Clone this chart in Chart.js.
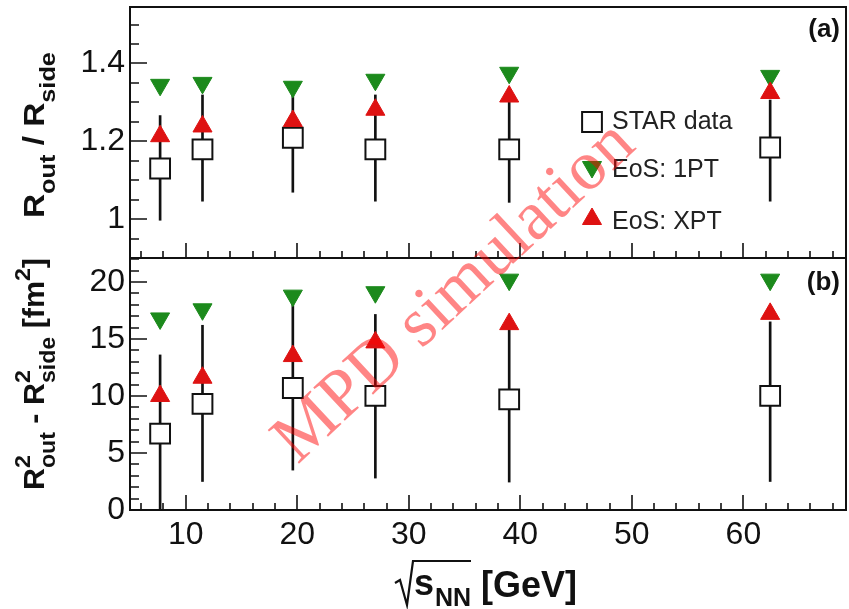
<!DOCTYPE html>
<html>
<head>
<meta charset="utf-8">
<script src="https://cdn.jsdelivr.net/npm/chart.js@4.4.0/dist/chart.umd.min.js"></script>
<style>
  html, body { margin: 0; padding: 0; background: #fff; }
  #wrap { position: relative; width: 849px; height: 609px; }
  canvas { position: absolute; left: 0; top: 0; }
</style>
</head>
<body>
<div id="wrap">
  <canvas id="top" width="849" height="609"></canvas>
  <canvas id="bottom" width="849" height="609"></canvas>
</div>
<script>
var energies = [7.7, 11.5, 19.6, 27, 39, 62.4];

// panel (a): Rout / Rside
var ratioStar = [1.13, 1.179, 1.209, 1.179, 1.179, 1.184];
var ratioStarLo = [0.997, 1.046, 1.069, 1.046, 1.043, 1.046];
var ratioStarHi = [1.266, 1.319, 1.33, 1.319, 1.306, 1.306];
var ratio1PT = [1.345, 1.35, 1.34, 1.358, 1.376, 1.368];
var ratioXPT = [1.213, 1.238, 1.252, 1.281, 1.315, 1.324];

// panel (b): Rout^2 - Rside^2 [fm^2]
var diffStar = [6.7, 9.3, 10.7, 10.0, 9.7, 10.0];
var diffStarLo = [0, 2.5, 3.5, 2.8, 2.45, 2.5];
var diffStarHi = [13.6, 16.2, 18.5, 17.15, 15.9, 16.5];
var diff1PT = [16.8, 17.6, 18.8, 19.1, 20.2, 20.2];
var diffXPT = [10.0, 11.6, 13.5, 14.7, 16.3, 17.2];

var xTicks = [10, 20, 30, 40, 50, 60];
var xTickLabels = ["10", "20", "30", "40", "50", "60"];
var yTopTicks = [1, 1.2, 1.4];
var yTopLabels = ["1", "1.2", "1.4"];
var yBotTicks = [0, 5, 10, 15, 20];
var yBotLabels = ["0", "5", "10", "15", "20"];
var legendLabels = ["STAR data", "EoS: 1PT", "EoS: XPT"];

var font = "'Liberation Sans', Arial, Helvetica, sans-serif";
var green = "rgb(28,138,28)";
var red = "rgb(222,18,18)";
var ink = "#111";

function pts(ys) {
  return energies.map(function (x, i) { return { x: x, y: ys[i] }; });
}
function ranges(lo, hi) {
  return energies.map(function (x, i) { return { x: x, y: [lo[i], hi[i]] }; });
}

function makeDatasets(star, lo, hi, pt1, xpt) {
  return [
    { type: "scatter", label: legendLabels[2], data: pts(xpt), order: 0,
      pointStyle: "triangle", pointRadius: 11, pointBackgroundColor: red,
      pointBorderColor: red, pointBorderWidth: 1 },
    { type: "scatter", label: legendLabels[1], data: pts(pt1), order: 1,
      pointStyle: "triangle", pointRotation: 180, pointRadius: 11,
      pointBackgroundColor: green, pointBorderColor: green, pointBorderWidth: 1 },
    { type: "scatter", label: legendLabels[0], data: pts(star), order: 2,
      pointStyle: "rect", pointRadius: 14, pointBackgroundColor: "#fff",
      pointBorderColor: ink, pointBorderWidth: 2 },
    { type: "bar", label: "STAR errors", data: ranges(lo, hi), order: 3,
      backgroundColor: ink, borderWidth: 0, barThickness: 2 }
  ];
}

// ROOT style frame with inward ticks
function framePlugin(yMajor, yMinStep, yMin, yMax) {
  return {
    id: "frame",
    beforeDatasetsDraw: function (chart) {
      var ctx = chart.ctx, a = chart.chartArea;
      var xs = chart.scales.x, ys = chart.scales.y;
      ctx.save();
      ctx.strokeStyle = ink;
      ctx.lineWidth = 2;
      ctx.strokeRect(a.left, a.top, a.right - a.left, a.bottom - a.top);
      ctx.lineWidth = 1.6;
      ctx.beginPath();
      var i, v, p;
      for (i = 0; ; i++) {
        v = yMin + i * yMinStep;
        if (v > yMax + 1e-9) break;
        var major = yMajor.some(function (m) { return Math.abs(m - v) < 1e-6; });
        p = Math.round(ys.getPixelForValue(v));
        ctx.moveTo(a.left, p);
        ctx.lineTo(a.left + (major ? 17 : 9), p);
      }
      for (i = 0; ; i++) {
        v = 6 + i * 2;
        if (v > 69) break;
        var xm = xTicks.indexOf(v) >= 0;
        p = Math.round(xs.getPixelForValue(v));
        ctx.moveTo(p, a.bottom);
        ctx.lineTo(p, a.bottom - (xm ? 15 : 7));
      }
      ctx.stroke();
      ctx.restore();
    }
  };
}

// text with sub/superscripts
function drawRich(ctx, x, y, angle, sx, parts) {
  ctx.save();
  ctx.translate(x, y);
  ctx.rotate(angle);
  ctx.scale(sx, 1);
  ctx.fillStyle = ink;
  ctx.textBaseline = "alphabetic";
  var cx = 0;
  parts.forEach(function (p) {
    var items = p.stack ? p.stack : [p];
    var w = 0;
    items.forEach(function (q) {
      ctx.font = "bold " + q.s + "px " + font;
      ctx.fillText(q.t, cx, q.dy || 0);
      w = Math.max(w, ctx.measureText(q.t).width);
    });
    cx += w;
  });
  ctx.restore();
}

function baseOptions(yMin, yMax, yTicks, yLabels, showX, padTop, padBottom) {
  return {
    responsive: false,
    animation: false,
    events: [],
    layout: { autoPadding: false, padding: { left: 0, right: 3, top: padTop, bottom: padBottom } },
    plugins: { legend: { display: false }, tooltip: { enabled: false } },
    scales: {
      x: {
        type: "linear", min: 5, max: 69.2, offset: false, display: showX,
        grid: { display: false, drawTicks: false }, border: { display: false },
        ticks: {
          padding: 6, color: ink, maxRotation: 0, autoSkip: false,
          font: { family: font, size: 32 },
          callback: function (v, i) { return xTickLabels[i]; }
        },
        afterBuildTicks: function (s) { s.ticks = xTicks.map(function (v) { return { value: v }; }); },
        afterFit: function (s) {
          s.height = showX ? 99 : 0;
          s.paddingLeft = 0; s.paddingRight = 0;
        }
      },
      y: {
        type: "linear", min: yMin, max: yMax,
        grid: { display: false, drawTicks: false }, border: { display: false },
        ticks: {
          padding: 5, color: ink,
          font: { family: font, size: 32 },
          callback: function (v, i) { return yLabels[i]; }
        },
        afterBuildTicks: function (s) { s.ticks = yTicks.map(function (v) { return { value: v }; }); },
        afterFit: function (s) {
          s.width = 130;
          s.paddingTop = 0; s.paddingBottom = 0;
        }
      }
    }
  };
}

var topDecor = {
  id: "topDecor",
  afterDraw: function (chart) {
    var ctx = chart.ctx;
    // y title
    drawRich(ctx, 44, 218, -Math.PI / 2, 1.15, [
      { t: "R", s: 29 }, { t: "out", s: 22, dy: 11 }, { t: " / ", s: 29 },
      { t: "R", s: 29 }, { t: "side", s: 22, dy: 11 }
    ]);
    // panel label
    ctx.save();
    ctx.fillStyle = ink;
    ctx.font = "bold 26px " + font;
    ctx.textAlign = "right";
    ctx.fillText("(a)", 840, 37);
    // legend
    var marks = [
      { pointStyle: "rect", rotation: 0, radius: 14, borderWidth: 2, fill: "#fff", stroke: ink, y: 122 },
      { pointStyle: "triangle", rotation: 180, radius: 11, borderWidth: 1, fill: green, stroke: green, y: 167 },
      { pointStyle: "triangle", rotation: 0, radius: 11, borderWidth: 1, fill: red, stroke: red, y: 219 }
    ];
    ctx.textAlign = "left";
    ctx.textBaseline = "middle";
    ctx.font = "25px " + font;
    marks.forEach(function (m, i) {
      ctx.fillStyle = m.fill;
      ctx.strokeStyle = m.stroke;
      ctx.lineWidth = m.borderWidth;
      Chart.helpers.drawPoint(ctx, m, 592, m.y);
      ctx.fillStyle = "#222";
      ctx.fillText(legendLabels[i], 612, m.y + (i === 0 ? 0 : 3));
    });
    ctx.restore();
  }
};

var bottomDecor = {
  id: "bottomDecor",
  afterDraw: function (chart) {
    var ctx = chart.ctx;
    drawRich(ctx, 44, 490, -Math.PI / 2, 1.05, [
      { t: "R", s: 29 },
      { stack: [{ t: "2", s: 22, dy: -14 }, { t: "out", s: 22, dy: 11 }] },
      { t: " - ", s: 29 },
      { t: "R", s: 29 },
      { stack: [{ t: "2", s: 22, dy: -14 }, { t: "side", s: 22, dy: 11 }] },
      { t: " [fm", s: 29 },
      { t: "2", s: 22, dy: -14 },
      { t: "]", s: 29 }
    ]);
    ctx.save();
    ctx.fillStyle = ink;
    ctx.font = "bold 26px " + font;
    ctx.textAlign = "right";
    ctx.fillText("(b)", 840, 290);

    // x title: sqrt(s_NN) [GeV]
    ctx.strokeStyle = ink;
    ctx.lineWidth = 2.2;
    ctx.beginPath();
    ctx.moveTo(395, 583);
    ctx.lineTo(400, 580);
    ctx.lineTo(407, 605);
    ctx.lineTo(413, 561);
    ctx.lineTo(471, 561);
    ctx.stroke();
    ctx.textAlign = "left";
    ctx.font = "bold 36px " + font;
    ctx.fillText("s", 414, 595);
    ctx.font = "bold 25px " + font;
    ctx.fillText("NN", 435, 606);
    ctx.font = "bold 36px " + font;
    ctx.fillText("[GeV]", 481, 597);

    // watermark
    ctx.translate(455, 293);
    ctx.rotate(-43 * Math.PI / 180);
    ctx.font = "70px 'Liberation Serif', 'Times New Roman', serif";
    ctx.textAlign = "center";
    ctx.textBaseline = "middle";
    ctx.fillStyle = "rgba(255,0,0,0.48)";
    ctx.fillText("MPD simulation", 0, 0);
    ctx.restore();
  }
};

new Chart(document.getElementById("top").getContext("2d"), {
  type: "scatter",
  data: { datasets: makeDatasets(ratioStar, ratioStarLo, ratioStarHi, ratio1PT, ratioXPT) },
  options: baseOptions(0.9, 1.545, yTopTicks, yTopLabels, false, 7, 351),
  plugins: [framePlugin(yTopTicks, 0.05, 0.9, 1.545), topDecor]
});

new Chart(document.getElementById("bottom").getContext("2d"), {
  type: "scatter",
  data: { datasets: makeDatasets(diffStar, diffStarLo, diffStarHi, diff1PT, diffXPT) },
  options: baseOptions(0, 22.1, yBotTicks, yBotLabels, true, 258, 0),
  plugins: [framePlugin(yBotTicks, 1, 0, 22.1), bottomDecor]
});
</script>
</body>
</html>
